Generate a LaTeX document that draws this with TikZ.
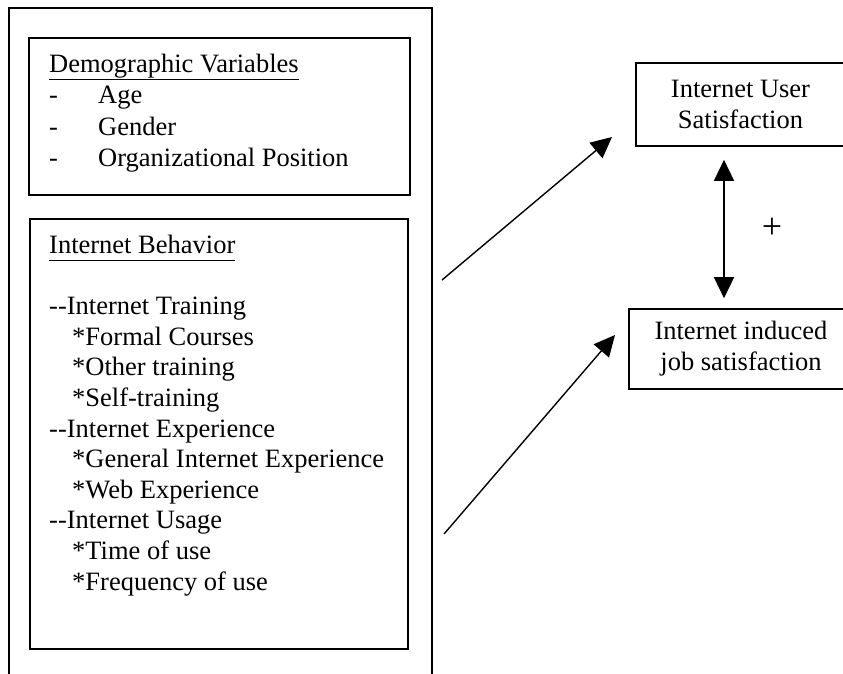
\documentclass[tikz,border=0pt]{standalone}
\usepackage{fontspec}
\setmainfont{Liberation Serif}
\usetikzlibrary{arrows.meta}
\newcommand{\ulin}[1]{\underline{#1\vphantom{gp}}}

\begin{document}
\begin{tikzpicture}
[x=1pt,y=-1pt,
 frame/.style={draw=black,line width=1.8pt},
 box/.style={rectangle,draw=black,line width=1.6pt,inner sep=0pt},
 txt/.style={draw=none,inner sep=0pt,anchor=base west,align=left,font=\fontsize{26.5}{30.6}\selectfont},
 ctxt/.style={align=center,font=\fontsize{26.5}{31}\selectfont},
 arr/.style={line width=1.4pt,-{Triangle[length=21pt,width=20pt]}},
 darr/.style={line width=1.4pt,{Triangle[length=21pt,width=20pt]}-{Triangle[length=21pt,width=20pt]}}]
\useasboundingbox (0,0) rectangle (843,673);
\clip (0,0) rectangle (843,673);

% outer frame, open at the bottom
\draw[frame] (9,690) -- (9,8) -- (432,8) -- (432,690);

% base of a multi-line node = baseline of its last line
\node[box,minimum width=381pt,minimum height=157pt] (demo) at (219.5,116.5) {};
\node[txt,font=\fontsize{26.5}{31.5}\selectfont] (demotxt) at (49,166.5) {\ulin{Demographic Variables}\\
\makebox[49pt][l]{-}Age\\
\makebox[49pt][l]{-}Gender\\
\makebox[49pt][l]{-}Organizational Position};

\node[box,minimum width=378pt,minimum height=430pt] (behav) at (219,434) {};
\node[txt] (behavtxt) at (49,590) {\ulin{Internet Behavior}\\[30.6pt]
-{}-Internet Training\\
\hspace*{23pt}*Formal Courses\\
\hspace*{23pt}*Other training\\
\hspace*{23pt}*Self-training\\
-{}-Internet Experience\\
\hspace*{23pt}*General Internet Experience\\
\hspace*{23pt}*Web Experience\\
-{}-Internet Usage\\
\hspace*{23pt}*Time of use\\
\hspace*{23pt}*Frequency of use};

\node[box,ctxt,minimum width=209pt,minimum height=83pt] (usr) at (740.5,104.5) {Internet User\\Satisfaction};
\node[box,ctxt,minimum width=224pt,minimum height=80pt] (job) at (741,349) {Internet induced\\job satisfaction};

\node[inner sep=0pt,font=\fontsize{36}{36}\selectfont] (plus) at (772,228) {+};

\coordinate (s1) at (442,280);
\coordinate (t1) at (612,137);
\coordinate (s2) at (444,534);
\coordinate (t2) at (615,335);

\draw[arr] (s1) -- (t1);
\draw[arr] (s2) -- (t2);
\draw[darr,shorten <=13pt,shorten >=10pt] ([xshift=-16.5pt]usr.south) -- ([xshift=-17pt]job.north);
\end{tikzpicture}
\end{document}
